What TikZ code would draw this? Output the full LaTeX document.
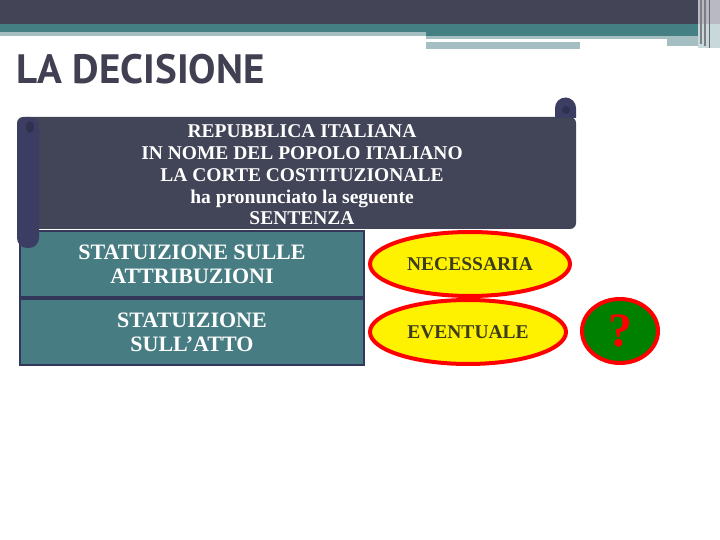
\documentclass[tikz,border=0pt]{standalone}
\usepackage{fontspec}
\setmainfont{Liberation Serif}
\newfontfamily\titlefont{PT Sans}
\usetikzlibrary{shapes.geometric}

\definecolor{bardark}{HTML}{434455}
\definecolor{barteal}{HTML}{437F83}
\definecolor{barlight}{HTML}{A5BEC1}
\definecolor{barside}{HTML}{B9B9C3}
\definecolor{titlegray}{HTML}{404052}
\definecolor{scrollblue}{HTML}{424458}
\definecolor{rollblue}{HTML}{3B3D62}
\definecolor{boxteal}{HTML}{467C82}
\definecolor{boxline}{HTML}{33375A}
\definecolor{olivetext}{HTML}{3C3C1E}
\definecolor{qgreen}{HTML}{008000}

\tikzset{
  scrolltext/.style={text=white, font=\bfseries\fontsize{19.5}{21.7}\selectfont, align=center, inner sep=0pt},
  tealbox/.style={fill=boxteal, draw=boxline, line width=2.5pt, minimum width=344pt, minimum height=66pt,
    text=white, font=\bfseries\fontsize{22}{24}\selectfont, align=center, inner sep=0pt},
  oval/.style={ellipse, fill=yellow, draw=red, line width=4pt, inner sep=0pt,
    text=olivetext, font=\bfseries\fontsize{19.5}{22}\selectfont}
}

\begin{document}
\begin{tikzpicture}[x=1pt,y=1pt]
\useasboundingbox (0,0) rectangle (720,-540);
\fill[white] (0,0) rectangle (720,-540);

%header bars
\fill[bardark] (0,0) rectangle (700,-24);
\fill[barteal] (0,-24) rectangle (700,-32);
\fill[barlight] (0,-32) rectangle (426,-36);
\fill[barteal] (426,-32) rectangle (700,-36);
\fill[barlight] (426,-36) rectangle (700,-39);
\fill[barlight] (426,-42) rectangle (580,-49);
\fill[barlight] (667,-39) rectangle (700,-46);
%right edge
\fill[barside] (698,0) rectangle (720,-24);
\fill[barlight!60!white] (698,-24) rectangle (720,-48);
\draw[gray, line width=1.5pt] (701,0) -- (701,-44);
\draw[bardark!70!white, line width=1.5pt] (705,0) -- (705,-46);
\draw[gray!80!black, line width=1pt] (709,0) -- (709,-48);

%title
\node[anchor=base west, text=titlegray, font=\titlefont\bfseries\fontsize{41}{44}\selectfont, inner sep=0pt]
  (title) at (16,-84) {LA DECISIONE};

%statuizioni
\node[tealbox] (attr) at (192,-264) {STATUIZIONE SULLE\\ATTRIBUZIONI};
\node[tealbox] (atto) at (192,-332) {STATUIZIONE\\SULL’ATTO};

%scroll
\fill[scrollblue, rounded corners=6pt] (17,-117) rectangle (576,-229);
\fill[rollblue] (555,-118) -- (555,-108) arc[start angle=180, end angle=0, radius=10.5] -- (576,-118) -- cycle;
\fill[rollblue!80!black] (566,-110) circle (4);
\fill[rollblue, rounded corners=10pt] (17,-117) rectangle (39,-248);
\fill[rollblue!80!black] (30,-127) ellipse (4 and 6);
\node[scrolltext] (sentenza) at (302,-175)
  {REPUBBLICA ITALIANA\\IN NOME DEL POPOLO ITALIANO\\LA CORTE COSTITUZIONALE\\ha pronunciato la seguente\\SENTENZA};

%ovals
\node[oval, minimum width=200pt, minimum height=64pt] (nec) at (470,-264) {NECESSARIA};
\node[oval, minimum width=196pt, minimum height=64pt] (eve) at (468,-332) {EVENTUALE};
\node[oval, fill=qgreen, text=red, minimum width=76pt, minimum height=64pt,
  font=\bfseries\fontsize{48}{48}\selectfont] (quest) at (620,-331) {?};

\end{tikzpicture}
\end{document}
